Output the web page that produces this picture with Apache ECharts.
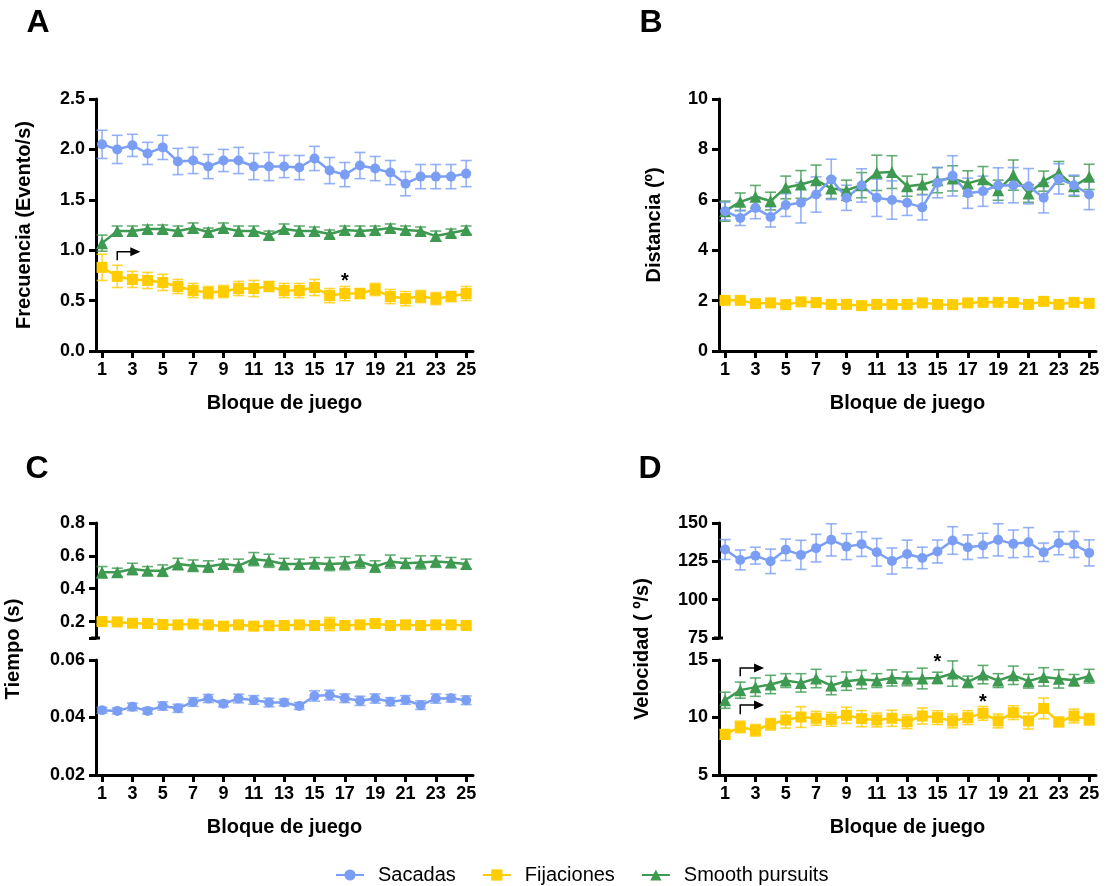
<!DOCTYPE html>
<html>
<head>
<meta charset="utf-8">
<script src="https://cdn.jsdelivr.net/npm/echarts@6/dist/echarts.min.js"></script>
<style>
html, body { margin: 0; padding: 0; background: #fff; }
#chart { width: 1106px; height: 886px; }
</style>
</head>
<body>
<div id="chart"></div>
<script>
// bloques de juego
var blocks = [1,2,3,4,5,6,7,8,9,10,11,12,13,14,15,16,17,18,19,20,21,22,23,24,25];
var tickBlocks = [1,3,5,7,9,11,13,15,17,19,21,23,25];

// A - Frecuencia (Evento/s)
var freqSac = [2.05,2.00,2.04,1.96,2.02,1.88,1.89,1.83,1.89,1.89,1.83,1.83,1.83,1.82,1.91,1.79,1.75,1.84,1.81,1.77,1.66,1.73,1.73,1.73,1.76];
var freqSacErr = [0.14,0.14,0.11,0.11,0.12,0.13,0.13,0.12,0.11,0.13,0.13,0.14,0.11,0.12,0.12,0.13,0.12,0.13,0.12,0.12,0.12,0.12,0.12,0.12,0.13];
var freqFij = [0.83,0.74,0.71,0.70,0.68,0.64,0.60,0.58,0.59,0.62,0.62,0.64,0.60,0.60,0.63,0.55,0.57,0.57,0.61,0.54,0.52,0.54,0.52,0.54,0.57];
var freqFijErr = [0.13,0.11,0.08,0.08,0.08,0.07,0.07,0.06,0.06,0.07,0.08,0.05,0.07,0.07,0.08,0.07,0.07,0.05,0.06,0.07,0.07,0.06,0.06,0.05,0.07];
var freqSmo = [1.07,1.19,1.19,1.21,1.21,1.19,1.22,1.18,1.22,1.19,1.19,1.15,1.21,1.19,1.19,1.16,1.20,1.19,1.20,1.22,1.20,1.19,1.14,1.17,1.20];
var freqSmoErr = [0.08,0.05,0.05,0.04,0.04,0.05,0.05,0.04,0.05,0.05,0.05,0.04,0.05,0.05,0.04,0.04,0.04,0.05,0.04,0.04,0.04,0.04,0.05,0.04,0.04];

// B - Distancia (º)
var distSac = [5.55,5.28,5.68,5.32,5.79,5.88,6.21,6.81,6.08,6.57,6.08,5.99,5.88,5.70,6.68,6.95,6.26,6.34,6.57,6.58,6.54,6.08,6.83,6.58,6.21];
var distSacErr = [0.35,0.30,0.43,0.40,0.45,0.80,0.70,0.80,0.50,0.66,0.74,0.76,0.50,0.50,0.60,0.80,0.60,0.60,0.70,0.70,0.70,0.60,0.60,0.40,0.60];
var distFij = [2.01,2.01,1.88,1.91,1.84,1.95,1.92,1.85,1.85,1.80,1.85,1.85,1.85,1.91,1.85,1.84,1.91,1.93,1.93,1.92,1.85,1.97,1.85,1.93,1.89];
var distFijErr = [0.08,0.08,0.08,0.08,0.08,0.08,0.08,0.08,0.08,0.08,0.08,0.08,0.08,0.08,0.08,0.08,0.08,0.08,0.08,0.08,0.08,0.08,0.08,0.08,0.08];
var distSmo = [5.55,5.92,6.12,5.95,6.49,6.61,6.78,6.45,6.38,6.58,7.07,7.10,6.54,6.61,6.78,6.85,6.65,6.82,6.38,6.98,6.25,6.74,7.07,6.54,6.91];
var distSmoErr = [0.40,0.35,0.45,0.35,0.45,0.55,0.60,0.40,0.40,0.50,0.70,0.65,0.40,0.40,0.50,0.50,0.50,0.50,0.40,0.60,0.35,0.40,0.45,0.40,0.50];

// C - Tiempo (s)
var timeSac = [0.0425,0.0423,0.0437,0.0423,0.0440,0.0432,0.0454,0.0466,0.0448,0.0466,0.0461,0.0452,0.0452,0.0440,0.0475,0.0478,0.0467,0.0458,0.0466,0.0455,0.0461,0.0443,0.0466,0.0467,0.0460];
var timeSacErr = [0.0010,0.0010,0.0013,0.0011,0.0014,0.0014,0.0015,0.0014,0.0011,0.0015,0.0015,0.0015,0.0012,0.0012,0.0018,0.0017,0.0015,0.0016,0.0016,0.0014,0.0015,0.0015,0.0016,0.0013,0.0015];
var timeFij = [0.200,0.198,0.190,0.188,0.182,0.180,0.185,0.180,0.172,0.180,0.172,0.175,0.176,0.180,0.176,0.185,0.176,0.180,0.188,0.176,0.180,0.176,0.180,0.180,0.176];
var timeFijErr = [0.018,0.015,0.015,0.015,0.018,0.018,0.015,0.015,0.018,0.015,0.015,0.018,0.015,0.015,0.015,0.040,0.018,0.015,0.015,0.015,0.015,0.018,0.022,0.015,0.015];
var timeSmo = [0.50,0.50,0.52,0.51,0.51,0.55,0.54,0.535,0.55,0.54,0.58,0.57,0.55,0.55,0.555,0.55,0.555,0.565,0.535,0.565,0.555,0.56,0.565,0.56,0.55];
var timeSmoErr = [0.035,0.025,0.035,0.025,0.035,0.035,0.035,0.035,0.03,0.04,0.04,0.04,0.035,0.03,0.035,0.04,0.04,0.04,0.035,0.04,0.03,0.04,0.035,0.03,0.03];

// D - Velocidad (º/s)
var velSac = [132.7,125.9,128.7,125.0,132.5,129.2,133.6,139.0,134.6,136.2,130.9,125.2,129.8,127.2,131.4,138.6,134.2,135.3,139.0,136.4,137.5,130.9,136.8,136.0,130.5];
var velSacErr = [6.5,6.5,5.5,8,7,9.5,9,10.5,8.5,8,9,8.5,9,7,7.5,9,8,8,10.5,9,9.5,6,7.5,8.5,8.5];
var velFij = [8.54,9.18,8.89,9.41,9.78,10.04,9.93,9.84,10.19,9.90,9.78,9.93,9.64,10.13,9.99,9.70,9.99,10.36,9.70,10.42,9.70,10.79,9.61,10.13,9.84];
var velFijErr = [0.4,0.5,0.5,0.5,0.7,0.9,0.6,0.6,0.7,0.7,0.6,0.7,0.6,0.7,0.6,0.6,0.6,0.6,0.6,0.6,0.7,0.9,0.4,0.6,0.5];
var velSmo = [11.5,12.38,12.64,12.87,13.21,13.01,13.39,12.78,13.16,13.30,13.21,13.44,13.36,13.39,13.44,13.82,13.10,13.73,13.21,13.67,13.16,13.53,13.36,13.24,13.59];
var velSmoErr = [0.7,0.7,0.8,0.8,0.6,0.8,0.8,0.8,0.8,0.8,0.6,0.7,0.6,0.9,0.5,1.1,0.5,0.8,0.6,0.8,0.6,0.8,0.8,0.5,0.6];

var FONT = '"Liberation Sans", Arial, sans-serif';
var blue = '#7b9ef5', yellow = '#ffcc00', green = '#3e9a50';

var chart = echarts.init(document.getElementById('chart'));

function xAxisFor(grid, visible) {
    return {
        type: 'value', gridIndex: grid, min: 0.6, max: 25.45, show: visible,
        axisLine: { lineStyle: { color: '#000', width: 3 } },
        axisTick: { customValues: tickBlocks, length: 7, lineStyle: { color: '#000', width: 3 } },
        axisLabel: { customValues: tickBlocks, color: '#000', fontSize: 18, fontWeight: 'bold', fontFamily: FONT, margin: 10 },
        splitLine: { show: false },
        name: visible ? 'Bloque de juego' : '',
        nameLocation: 'middle', nameGap: 42,
        nameTextStyle: { color: '#000', fontSize: 20, fontWeight: 'bold', fontFamily: FONT }
    };
}

function yAxisFor(grid, min, max, ticks, labels, digits, name, gap) {
    return {
        type: 'value', gridIndex: grid, min: min, max: max,
        axisLine: { show: true, lineStyle: { color: '#000', width: 3 } },
        axisTick: { show: true, customValues: ticks, length: 7, lineStyle: { color: '#000', width: 3 } },
        axisLabel: {
            customValues: labels, color: '#000', fontSize: 18, fontWeight: 'bold', fontFamily: FONT, margin: 11,
            formatter: function(v) { return v.toFixed(digits); }
        },
        splitLine: { show: false },
        name: name || '', nameLocation: 'middle', nameGap: gap || 0,
        nameTextStyle: { color: '#000', fontSize: 20, fontWeight: 'bold', fontFamily: FONT }
    };
}

function pairs(vals) {
    return blocks.map(function(b, i) { return [b, vals[i]]; });
}

function lineSeries(name, color, symbol, size, idx, vals) {
    return {
        type: 'line', name: name, xAxisIndex: idx, yAxisIndex: idx,
        data: pairs(vals), symbol: symbol, symbolSize: size,
        lineStyle: { color: color, width: 2.5 },
        itemStyle: { color: color },
        z: 3
    };
}

function errSeries(color, idx, vals, errs) {
    return {
        type: 'custom', name: 'err', xAxisIndex: idx, yAxisIndex: idx, z: 2,
        data: blocks.map(function(b, i) { return [b, vals[i] - errs[i], vals[i] + errs[i]]; }),
        renderItem: function(params, api) {
            var lo = api.coord([api.value(0), api.value(1)]);
            var hi = api.coord([api.value(0), api.value(2)]);
            var hw = 5.5;
            var st = { stroke: color, lineWidth: 1.6, opacity: 0.8 };
            return {
                type: 'group',
                children: [
                    { type: 'line', shape: { x1: lo[0], y1: lo[1], x2: hi[0], y2: hi[1] }, style: st },
                    { type: 'line', shape: { x1: hi[0] - hw, y1: hi[1], x2: hi[0] + hw, y2: hi[1] }, style: st },
                    { type: 'line', shape: { x1: lo[0] - hw, y1: lo[1], x2: lo[0] + hw, y2: lo[1] }, style: st }
                ]
            };
        }
    };
}

function panel(idx, sac, sacE, fij, fijE, smo, smoE, idxSac, idxOther) {
    var a = idxSac === undefined ? idx : idxSac;
    var b = idxOther === undefined ? idx : idxOther;
    return [
        errSeries(yellow, b, fij, fijE),
        errSeries(green, b, smo, smoE),
        errSeries(blue, a, sac, sacE),
        lineSeries('Fijaciones', yellow, 'rect', 11, b, fij),
        lineSeries('Smooth pursuits', green, 'triangle', 12, b, smo),
        lineSeries('Sacadas', blue, 'circle', 10, a, sac)
    ];
}

var option = {
    animation: false,
    backgroundColor: '#fff',
    textStyle: { fontFamily: FONT },
    grid: [
        { left: 96, top: 99, width: 377, height: 252, outerBoundsMode: 'none' },
        { left: 719, top: 99, width: 377, height: 252, outerBoundsMode: 'none' },
        { left: 96, top: 523, width: 377, height: 115, outerBoundsMode: 'none' },
        { left: 96, top: 660, width: 377, height: 115, outerBoundsMode: 'none' },
        { left: 719, top: 523, width: 377, height: 115, outerBoundsMode: 'none' },
        { left: 719, top: 660, width: 377, height: 115, outerBoundsMode: 'none' }
    ],
    xAxis: [
        xAxisFor(0, true), xAxisFor(1, true),
        xAxisFor(2, false), xAxisFor(3, true),
        xAxisFor(4, false), xAxisFor(5, true)
    ],
    yAxis: [
        yAxisFor(0, 0, 2.5, [0, 0.5, 1, 1.5, 2, 2.5], [0, 0.5, 1, 1.5, 2, 2.5], 1, 'Frecuencia (Evento/s)', 62),
        yAxisFor(1, 0, 10, [0, 2, 4, 6, 8, 10], [0, 2, 4, 6, 8, 10], 0, 'Distancia (º)', 55),
        yAxisFor(2, 0.1, 0.8, [0.1, 0.2, 0.4, 0.6, 0.8], [0.2, 0.4, 0.6, 0.8], 1),
        yAxisFor(3, 0.02, 0.06, [0.02, 0.04, 0.06], [0.02, 0.04, 0.06], 2),
        yAxisFor(4, 75, 150, [75, 100, 125, 150], [75, 100, 125, 150], 0),
        yAxisFor(5, 5, 15, [5, 10, 15], [5, 10, 15], 0)
    ],
    legend: {
        data: ['Sacadas', 'Fijaciones', 'Smooth pursuits'],
        left: 330, top: 860, itemWidth: 28, itemHeight: 14, itemGap: 26,
        textStyle: { fontSize: 20, color: '#000', fontFamily: FONT, padding: [0, 0, 0, 9] }
    },
    series: [].concat(
        panel(0, freqSac, freqSacErr, freqFij, freqFijErr, freqSmo, freqSmoErr),
        panel(1, distSac, distSacErr, distFij, distFijErr, distSmo, distSmoErr),
        panel(2, timeSac, timeSacErr, timeFij, timeFijErr, timeSmo, timeSmoErr, 3, 2),
        panel(4, velSac, velSacErr, velFij, velFijErr, velSmo, velSmoErr, 4, 5)
    )
};
chart.setOption(option);

// anotaciones (flechas, asteriscos, letras, nombres de ejes partidos)
function px(grid, x, y) {
    return chart.convertToPixel({ gridIndex: grid }, [x, y]);
}
function arrow(grid, x0, y0, y1, x1) {
    var p0 = px(grid, x0, y0), p1 = px(grid, x0, y1), p2 = px(grid, x1, y1);
    return [
        { type: 'polyline', shape: { points: [p0, p1, [p2[0] - 9, p1[1]]] }, style: { stroke: '#000', lineWidth: 1.5, fill: null } },
        { type: 'polygon', shape: { points: [[p2[0] - 10, p1[1] - 4.5], [p2[0], p1[1]], [p2[0] - 10, p1[1] + 4.5]] }, style: { fill: '#000' } }
    ];
}
function star(grid, x, y) {
    var p = px(grid, x, y);
    return { type: 'text', x: p[0], y: p[1] + 4, style: { text: '*', font: 'bold 20px ' + FONT, fill: '#000', align: 'center', verticalAlign: 'middle' } };
}
function letter(t, x, y) {
    return { type: 'text', x: x, y: y, style: { text: t, font: 'bold 32px ' + FONT, fill: '#000', align: 'center', verticalAlign: 'middle' } };
}
function vname(t, x, gridTop, gridBot, yTop, yBot) {
    var top = px(gridTop, 1, yTop)[1], bot = px(gridBot, 1, yBot)[1];
    return { type: 'text', x: x, y: (top + bot) / 2, rotation: Math.PI / 2,
        style: { text: t, font: 'bold 20px ' + FONT, fill: '#000', align: 'center', verticalAlign: 'middle' } };
}
function breakMark(grid, y) {
    var p = px(grid, 0.6, y);
    return { type: 'line', shape: { x1: p[0] - 5, y1: p[1], x2: p[0] + 4, y2: p[1] }, style: { stroke: '#000', lineWidth: 3 } };
}

var graphics = [].concat(
    [letter('A', 38, 23), letter('B', 651, 23), letter('C', 37, 469), letter('D', 650, 469)],
    arrow(0, 2, 0.90, 0.985, 3.52),
    [star(0, 17, 0.73)],
    arrow(5, 2, 13.59, 14.31, 3.57),
    arrow(5, 2, 10.28, 11.09, 3.57),
    [star(5, 15, 15.1), star(5, 18, 11.66)],
    [vname('Tiempo (s)', 13, 2, 3, 0.8, 0.02), vname('Velocidad ( º/s)', 642, 4, 5, 150, 5)],
    [breakMark(2, 0.1), breakMark(4, 75)]
);
chart.setOption({ graphic: graphics });
</script>
</body>
</html>
